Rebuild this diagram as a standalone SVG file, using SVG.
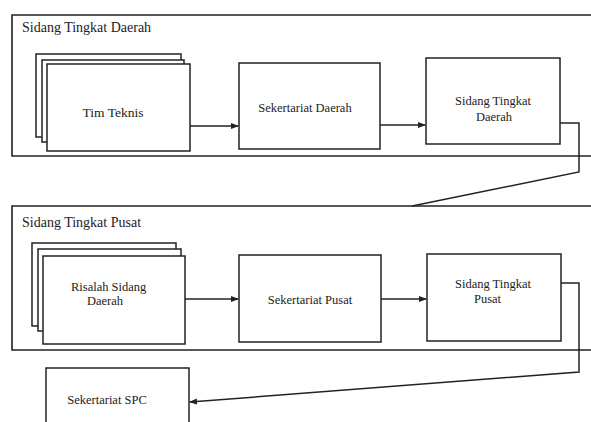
<svg xmlns="http://www.w3.org/2000/svg" width="591" height="422" viewBox="0 0 591 422">
<defs>
<marker id="ah" markerWidth="8" markerHeight="8" refX="7" refY="4" orient="auto" markerUnits="userSpaceOnUse">
<path d="M0,1 L8,4 L0,7 Z" fill="#222"/>
</marker>
<style>
.box{fill:#fff;stroke:#222;stroke-width:1.5}
.frame{fill:none;stroke:#222;stroke-width:1.6}
.line{fill:none;stroke:#222;stroke-width:1.5}
text{font-family:"Liberation Serif","Times New Roman",serif;fill:#222;font-size:12.5px}
.title{font-size:14px}
.c{text-anchor:middle}
</style>
</defs>
<rect width="591" height="422" fill="#fff"/>

<g id="frame-daerah">
<path class="frame" d="M591,15 L12,15 L12,156 L591,156"/>
<text class="title" x="22" y="32">Sidang Tingkat Daerah</text>
</g>

<g id="frame-pusat">
<path class="frame" d="M591,206 L12,206 L12,350 L591,350"/>
<text class="title" x="22" y="227">Sidang Tingkat Pusat</text>
</g>

<g id="tim-teknis">
<rect class="box" x="36" y="54" width="145" height="83"/>
<rect class="box" x="42" y="60" width="142" height="82"/>
<rect class="box" x="47" y="64" width="143" height="87"/>
<text class="c" x="113" y="117" style="font-size:13.5px">Tim Teknis</text>
</g>

<g id="sekertariat-daerah">
<rect class="box" x="239" y="63" width="141" height="86"/>
<text class="c" x="305" y="112">Sekertariat Daerah</text>
</g>

<g id="sidang-tingkat-daerah">
<rect class="box" x="426" y="58" width="134" height="86"/>
<text class="c" x="493" y="105">Sidang Tingkat</text>
<text class="c" x="494" y="121">Daerah</text>
</g>

<g id="risalah-sidang-daerah">
<rect class="box" x="32" y="243" width="144" height="83"/>
<rect class="box" x="38" y="249" width="143" height="82"/>
<rect class="box" x="43" y="256" width="142" height="88"/>
<text x="71" y="291">Risalah Sidang</text>
<text x="87" y="305">Daerah</text>
</g>

<g id="sekertariat-pusat">
<rect class="box" x="239" y="255" width="142" height="87"/>
<text class="c" x="310" y="304">Sekertariat Pusat</text>
</g>

<g id="sidang-tingkat-pusat">
<rect class="box" x="427" y="254" width="134" height="87"/>
<text x="455" y="288">Sidang Tingkat</text>
<text x="474" y="303">Pusat</text>
</g>

<g id="sekertariat-spc">
<rect class="box" x="46" y="368" width="143" height="60"/>
<text class="c" x="107" y="404">Sekertariat SPC</text>
</g>

<g id="connectors">
<line class="line" x1="190" y1="126" x2="238" y2="126" marker-end="url(#ah)"/>
<line class="line" x1="380" y1="125" x2="425" y2="125" marker-end="url(#ah)"/>
<path class="line" d="M560,123 L579,123 L579,172 L412,206"/>
<line class="line" x1="185" y1="299" x2="238" y2="299" marker-end="url(#ah)"/>
<line class="line" x1="381" y1="299" x2="426" y2="299" marker-end="url(#ah)"/>
<path class="line" d="M561,283 L579,283 L579,372 L190,402" marker-end="url(#ah)"/>
</g>
</svg>
